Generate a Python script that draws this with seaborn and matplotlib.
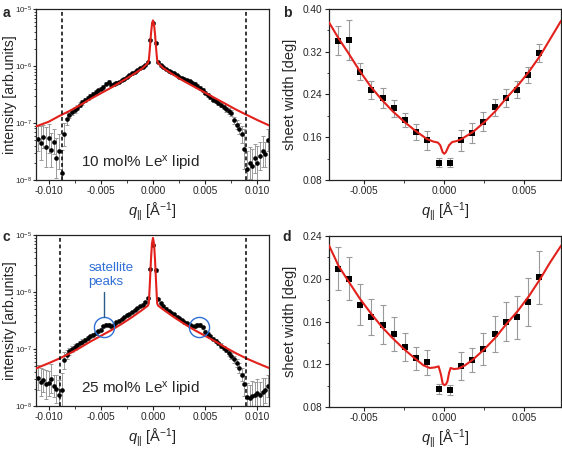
import numpy as np
import matplotlib
matplotlib.use("Agg")
import matplotlib.pyplot as plt
import matplotlib.ticker as mticker
import seaborn as sns

sns.set_theme(style="ticks")
plt.rcParams['font.family'] = ['Liberation Sans', 'DejaVu Sans']
plt.rcParams['mathtext.fontset'] = 'custom'
plt.rcParams['mathtext.rm'] = 'Liberation Sans'
plt.rcParams['mathtext.it'] = 'Liberation Sans:italic'
plt.rcParams['mathtext.bf'] = 'Liberation Sans:bold'
plt.rcParams['axes.unicode_minus'] = False

RED = "#e3211c"
GREY = "#9a9a9a"
BLUE = "#2f6fd6"

# ---- panel a / c: intensity profiles (log10 of intensity)
q_int = np.round(np.arange(-0.011, 0.01101, 0.00025), 5)

log_int_a = [-7.28, -7.35, -7.24, -7.42, -7.27, -7.47, -7.33, -7.62, -7.50, -7.88,
             -7.20, -6.93, -6.86, -6.81, -6.77, -6.73, -6.68, -6.64, -6.60, -6.56,
             -6.52, -6.49, -6.46, -6.43, -6.40, -6.37, -6.31, -6.28, -6.33, -6.32,
             -6.30, -6.28, -6.25, -6.22, -6.19, -6.16, -6.13, -6.10, -6.07, -6.04,
             -6.01, -5.98, -5.93, -5.55, -5.25, -5.60, -5.93, -5.99, -6.02, -6.05,
             -6.08, -6.11, -6.13, -6.16, -6.19, -6.21, -6.23, -6.25, -6.27, -6.29,
             -6.31, -6.35, -6.38, -6.42, -6.47, -6.51, -6.55, -6.59, -6.62, -6.65,
             -6.68, -6.72, -6.76, -6.79, -6.83, -6.95, -7.03, -7.10, -7.20, -7.45,
             -7.80, -7.70, -7.75, -7.62, -7.70, -7.58, -7.50, -7.55, -7.30]
err_int_a = [0.22, 0.30, 0.20, 0.35, 0.25, 0.30, 0.22, 0.35, 0.30, 0.40,
             0.20, 0.10, 0.06, 0.05, 0.05, 0.04, 0.04, 0.04, 0.04, 0.03,
             0.03, 0.03, 0.03, 0.03, 0.03, 0.03, 0.03, 0.03, 0.03, 0.03,
             0.03, 0.02, 0.02, 0.02, 0.02, 0.02, 0.02, 0.02, 0.02, 0.02,
             0.02, 0.02, 0.02, 0.02, 0.02, 0.02, 0.02, 0.02, 0.02, 0.02,
             0.02, 0.02, 0.02, 0.02, 0.02, 0.02, 0.02, 0.02, 0.03, 0.03,
             0.03, 0.03, 0.03, 0.03, 0.03, 0.03, 0.03, 0.03, 0.03, 0.03,
             0.04, 0.04, 0.04, 0.05, 0.05, 0.06, 0.08, 0.10, 0.15, 0.35,
             0.30, 0.28, 0.30, 0.25, 0.30, 0.25, 0.28, 0.22, 0.20]

log_int_c = [-7.50, -7.58, -7.55, -7.62, -7.60, -7.52, -7.65, -7.70, -7.80, -7.72,
             -7.20, -7.10, -7.04, -7.00, -6.96, -6.93, -6.90, -6.87, -6.84, -6.81,
             -6.78, -6.75, -6.72, -6.69, -6.66, -6.60, -6.57, -6.58, -6.60, -6.57,
             -6.53, -6.50, -6.47, -6.44, -6.41, -6.38, -6.35, -6.32, -6.28, -6.25,
             -6.22, -6.18, -6.10, -5.60, -5.18, -5.62, -6.12, -6.20, -6.25, -6.29,
             -6.33, -6.36, -6.39, -6.43, -6.46, -6.49, -6.52, -6.55, -6.58, -6.60,
             -6.60, -6.58, -6.58, -6.62, -6.70, -6.74, -6.78, -6.82, -6.86, -6.90,
             -6.94, -6.98, -7.02, -7.07, -7.12, -7.18, -7.25, -7.33, -7.45, -7.62,
             -7.84, -7.86, -7.82, -7.80, -7.78, -7.80, -7.76, -7.72, -7.65]
err_int_c = [0.22, 0.25, 0.20, 0.25, 0.22, 0.25, 0.20, 0.25, 0.25, 0.30,
             0.15, 0.08, 0.06, 0.05, 0.05, 0.04, 0.04, 0.04, 0.03, 0.03,
             0.03, 0.03, 0.03, 0.03, 0.03, 0.03, 0.03, 0.03, 0.03, 0.03,
             0.03, 0.02, 0.02, 0.02, 0.02, 0.02, 0.02, 0.02, 0.02, 0.02,
             0.02, 0.02, 0.02, 0.02, 0.02, 0.02, 0.02, 0.02, 0.02, 0.02,
             0.02, 0.02, 0.02, 0.02, 0.02, 0.02, 0.02, 0.02, 0.03, 0.03,
             0.03, 0.03, 0.03, 0.03, 0.03, 0.03, 0.03, 0.03, 0.03, 0.03,
             0.04, 0.04, 0.04, 0.05, 0.05, 0.06, 0.07, 0.09, 0.12, 0.20,
             0.25, 0.22, 0.25, 0.22, 0.25, 0.22, 0.25, 0.22, 0.20]

q_fit_int = [-0.0112, -0.010, -0.009, -0.008, -0.007, -0.006, -0.005, -0.004, -0.003,
             -0.002, -0.001, -0.0005, -0.0004, -0.0003, -0.0002, -0.0001, 0.0,
             0.0001, 0.0002, 0.0003, 0.0004, 0.0005, 0.001, 0.002, 0.003, 0.004,
             0.005, 0.006, 0.007, 0.008, 0.009, 0.010, 0.0112]
log_fit_a = [-7.06, -6.98, -6.88, -6.79, -6.69, -6.58, -6.48, -6.38, -6.27,
             -6.16, -6.04, -5.95, -5.90, -5.70, -5.45, -5.27, -5.20,
             -5.27, -5.45, -5.70, -5.90, -5.95, -6.04, -6.16, -6.27, -6.37,
             -6.47, -6.57, -6.67, -6.77, -6.86, -6.95, -7.05]
log_fit_c = [-7.34, -7.25, -7.17, -7.08, -6.98, -6.87, -6.77, -6.67, -6.56,
             -6.44, -6.31, -6.24, -6.20, -5.85, -5.45, -5.15, -5.05,
             -5.15, -5.45, -5.85, -6.20, -6.24, -6.31, -6.44, -6.56, -6.67,
             -6.77, -6.87, -6.98, -7.08, -7.17, -7.25, -7.34]

cut_a = [-0.0087, 0.0089]
cut_c = [-0.0089, 0.0089]
satellite_q = [-0.00467, 0.00438]
satellite_log = [-6.61, -6.61]

# ---- panel b / d: sheet width
q_width = [-0.00665, -0.00595, -0.00525, -0.00455, -0.00385, -0.00315, -0.00245,
           -0.00175, -0.00105, -0.00035, 0.00035, 0.00105, 0.00175, 0.00245,
           0.00315, 0.00385, 0.00455, 0.00525, 0.00595]
width_b = [0.341, 0.342, 0.283, 0.249, 0.234, 0.214, 0.1925, 0.170, 0.154, 0.1125,
           0.1125, 0.154, 0.1675, 0.189, 0.216, 0.234, 0.249, 0.276, 0.3175]
width_err_b = [0.0275, 0.0375, 0.016, 0.017, 0.019, 0.016, 0.013, 0.015, 0.017, 0.009,
               0.009, 0.020, 0.019, 0.0175, 0.016, 0.017, 0.0165, 0.015, 0.0175]
width_d = [0.2094, 0.200, 0.1757, 0.164, 0.157, 0.148, 0.1358, 0.1255, 0.1218, 0.0971,
           0.0962, 0.118, 0.124, 0.1343, 0.1483, 0.1598, 0.164, 0.178, 0.2013]
width_err_d = [0.0203, 0.0203, 0.019, 0.017, 0.018, 0.016, 0.013, 0.011, 0.012, 0.0047,
               0.0047, 0.013, 0.011, 0.015, 0.017, 0.0184, 0.020, 0.0226, 0.025]

q_fit_b = [-0.0072, -0.0066, -0.006, -0.0053, -0.0046, -0.0039, -0.0032, -0.0025,
           -0.0018, -0.0011, -0.0007, -0.0004, -0.00025, -0.0001, 0.0, 0.0001, 0.0003,
           0.0005, 0.0008, 0.0011, 0.0018, 0.0025, 0.0032, 0.0039, 0.0046, 0.0053,
           0.006, 0.0066, 0.0073]
fit_b = [0.375, 0.345, 0.318, 0.285, 0.255, 0.230, 0.208, 0.189, 0.172, 0.157,
         0.152, 0.150, 0.145, 0.132, 0.129, 0.132, 0.145, 0.151, 0.153, 0.157,
         0.170, 0.188, 0.209, 0.234, 0.257, 0.283, 0.313, 0.343, 0.378]
q_fit_d = [-0.0072, -0.0066, -0.006, -0.0053, -0.0046, -0.0039, -0.0032, -0.0025,
           -0.0018, -0.0013, -0.0009, -0.0006, -0.00035, -0.0002, -0.0001, 0.0, 0.0001,
           0.0002, 0.0003, 0.0004, 0.0006, 0.0009, 0.0013, 0.0018, 0.0025, 0.0032,
           0.0039, 0.0046, 0.0053, 0.006, 0.0066, 0.0073]
fit_d = [0.2313, 0.212, 0.198, 0.182, 0.168, 0.155, 0.144, 0.134, 0.125, 0.119,
         0.1165, 0.117, 0.118, 0.110, 0.102, 0.1005, 0.101, 0.104, 0.112, 0.1165,
         0.1155, 0.116, 0.119, 0.1245, 0.134, 0.145, 0.158, 0.170, 0.184, 0.200,
         0.215, 0.231]

XLABEL = r'$q_{||}$ [Å$^{-1}$]'

fig = plt.figure(figsize=(5.62, 4.51), dpi=100)
ax_a = fig.add_axes([0.064, 0.601, 0.4146, 0.379])
ax_b = fig.add_axes([0.5854, 0.601, 0.413, 0.379])
ax_c = fig.add_axes([0.064, 0.0998, 0.4146, 0.379])
ax_d = fig.add_axes([0.5854, 0.0976, 0.413, 0.379])


def style_axes(ax):
    for sp in ax.spines.values():
        sp.set_color("#222222")
        sp.set_linewidth(0.9)
    ax.tick_params(which="both", direction="out", labelsize=7.3, pad=1.5,
                   top=False, right=False, color="#222222")
    ax.tick_params(which="major", length=3, width=0.8)
    ax.tick_params(which="minor", length=1.8, width=0.6)
    ax.grid(False)


def intensity_panel(ax, log_vals, err_vals, log_fit, cut, label):
    vals = 10.0 ** np.array(log_vals)
    e = np.array(err_vals)
    lo = vals - vals * 10.0 ** (-e)
    hi = vals * 10.0 ** e - vals
    ax.errorbar(q_int, vals, yerr=[lo, hi], fmt="none", ecolor=GREY,
                elinewidth=0.7, capsize=1.5, capthick=0.7, zorder=1)
    sns.scatterplot(x=q_int, y=vals, ax=ax, color="black", marker="o", s=11,
                    linewidth=0, zorder=2)
    sns.lineplot(x=q_fit_int, y=10.0 ** np.array(log_fit), ax=ax, color=RED,
                 linewidth=1.5, zorder=3)
    for c in cut:
        ax.axvline(c, color="black", linestyle=(0, (2.5, 1.8)), linewidth=1.1, zorder=4)
    ax.set_yscale("log")
    ax.set_xlim(-0.0112, 0.0111)
    ax.set_ylim(1e-8, 1e-5)
    ax.xaxis.set_major_locator(mticker.MultipleLocator(0.005))
    ax.xaxis.set_minor_locator(mticker.MultipleLocator(0.0025))
    ax.xaxis.set_major_formatter(mticker.FormatStrFormatter("%.3f"))
    ax.yaxis.set_major_locator(mticker.LogLocator(base=10, numticks=5))
    ax.yaxis.set_minor_locator(mticker.LogLocator(base=10, subs=np.arange(2, 10), numticks=20))
    ax.yaxis.set_minor_formatter(mticker.NullFormatter())
    ax.set_xlabel(XLABEL, fontsize=10.5, labelpad=3)
    ax.set_ylabel("intensity [arb.units]", fontsize=10.2)
    ax.text(0.45, 0.095, label, transform=ax.transAxes, ha="center", va="center",
            fontsize=11)
    style_axes(ax)
    ax.tick_params(axis="y", which="major", labelsize=5.8, pad=0.5, length=2.0)
    ax.tick_params(axis="y", which="minor", length=1.3)
    ax.yaxis.set_label_coords(-0.083, 0.5)


def width_panel(ax, vals, errs, q_fit, fit, ylim, ystep):
    ax.errorbar(q_width, vals, yerr=errs, fmt="none", ecolor=GREY,
                elinewidth=0.8, capsize=2.2, capthick=0.8, zorder=1)
    sns.scatterplot(x=q_width, y=vals, ax=ax, color="black", marker="s", s=13,
                    linewidth=0, zorder=2)
    sns.lineplot(x=q_fit, y=fit, ax=ax, color=RED, linewidth=1.5, zorder=3)
    ax.set_xlim(-0.0072, 0.0073)
    ax.set_ylim(*ylim)
    ax.xaxis.set_major_locator(mticker.MultipleLocator(0.005))
    ax.xaxis.set_minor_locator(mticker.MultipleLocator(0.0025))
    ax.xaxis.set_major_formatter(mticker.FormatStrFormatter("%.3f"))
    ax.yaxis.set_major_locator(mticker.MultipleLocator(ystep))
    ax.yaxis.set_minor_locator(mticker.MultipleLocator(ystep / 2))
    ax.yaxis.set_major_formatter(mticker.FormatStrFormatter("%.2f"))
    ax.set_xlabel(XLABEL, fontsize=10.5, labelpad=3)
    ax.set_ylabel("sheet width [deg]", fontsize=10.5, labelpad=4)
    style_axes(ax)


intensity_panel(ax_a, log_int_a, err_int_a, log_fit_a, cut_a, "10 mol% Le$^{\\mathrm{x}}$ lipid")
intensity_panel(ax_c, log_int_c, err_int_c, log_fit_c, cut_c, "25 mol% Le$^{\\mathrm{x}}$ lipid")
width_panel(ax_b, width_b, width_err_b, q_fit_b, fit_b, (0.08, 0.40), 0.08)
width_panel(ax_d, width_d, width_err_d, q_fit_d, fit_d, (0.08, 0.24), 0.04)

# satellite peak markers in panel c
ax_c.plot(satellite_q, 10.0 ** np.array(satellite_log), linestyle="none", marker="o",
          markersize=14.5, markerfacecolor="none", markeredgecolor=BLUE,
          markeredgewidth=1.0, zorder=5)
ax_c.plot([satellite_q[0], satellite_q[0]], [10.0 ** -6.0, 10.0 ** -6.43],
          color="#2a5d8c", linewidth=1.0, zorder=5)
ax_c.text(0.225, 0.845, "satellite\npeaks", transform=ax_c.transAxes, ha="left",
          va="top", fontsize=9.5, color=BLUE, linespacing=1.25)

# panel letters
for x, y, s in [(0.004, 0.972, "a"), (0.503, 0.972, "b"),
                (0.004, 0.474, "c"), (0.503, 0.474, "d")]:
    fig.text(x, y, s, fontsize=10, fontweight="bold", ha="left", va="center")

fig.savefig("out.png", dpi=100)
